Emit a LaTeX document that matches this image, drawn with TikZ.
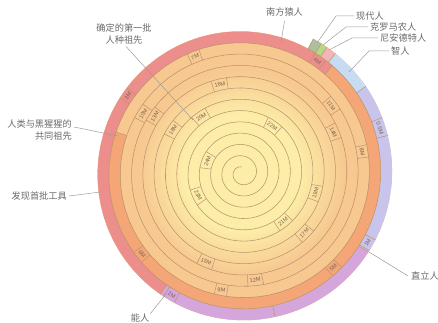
\documentclass[tikz,border=0pt]{standalone}
\usepackage{fontspec}
\setmainfont{Liberation Sans}
\newfontfamily\cjk{Noto Sans CJK SC}
\definecolor{tanC}{HTML}{F7C890}
\definecolor{yelC}{HTML}{FCEDA8}
\definecolor{redC}{HTML}{EC8E8C}
\definecolor{oraC}{HTML}{F4A676}
\definecolor{lavC}{HTML}{C9C4EC}
\definecolor{vioC}{HTML}{D4A6DC}
\definecolor{bluC}{HTML}{C7DBF3}
\definecolor{grnC}{HTML}{B6DA84}
\definecolor{ggrC}{HTML}{AEBFA0}
\definecolor{pnkC}{HTML}{F4B6B4}
\definecolor{lineC}{HTML}{BC946C}
\definecolor{txtC}{HTML}{7A6450}
\definecolor{leadC}{HTML}{9C9C9C}
\definecolor{cnC}{HTML}{6A6A6A}
\newcommand\seg[3]{\fill[#1] plot[domain=#2:#3, samples=40, variable=\t] ({spx(\t)},{spy(\t)}) -- plot[domain=0:1, samples=40, variable=\t] ({spx(#3-\t*(#3-#2)+360)},{spy(#3-\t*(#3-#2)+360)}) -- cycle;}
\newcommand\tlab[4]{%
  \pgfmathsetmacro\tlang{Mod(-28-#1,360)}%
  \pgfmathsetmacro\tlrot{\tlang>270 ? \tlang-360 : (\tlang>90 ? \tlang-180 : \tlang)}%
  \pgfmathsetmacro\tldel{#3/(spr(#1)-5.65)*57.3}%
  \node[tlabel, rotate=\tlrot] (#4) at ({smx(#1)},{smy(#1)}) {#2};
  \draw[tick] ({spx(#1-\tldel)},{spy(#1-\tldel)}) -- ({spx(#1-\tldel+360)},{spy(#1-\tldel+360)});
  \draw[tick] ({spx(#1+\tldel)},{spy(#1+\tldel)}) -- ({spx(#1+\tldel+360)},{spy(#1+\tldel+360)});
}
\begin{document}
\begin{tikzpicture}[x=1pt,y=1pt,
  declare function={spr(\t)=152-0.0314*\t; spx(\t)=242+spr(\t)*cos(62-\t); spy(\t)=149+spr(\t)*sin(62-\t); smx(\t)=242+(spr(\t)-5.65)*cos(62-\t); smy(\t)=149+(spr(\t)-5.65)*sin(62-\t);},
  spiral/.style={draw=lineC, line width=0.55pt},
  tick/.style={draw=lineC, line width=0.5pt},
  tlabel/.style={text=txtC, font=\fontsize{5.6}{6}\selectfont, inner sep=0pt},
  cn/.style={text=cnC, font=\cjk\fontsize{9.2}{11.5}\selectfont, inner sep=0pt},
  lead/.style={draw=leadC, line width=0.5pt}]
\useasboundingbox (0,0) rectangle (438,322);
% gradient body
\begin{scope}
  \clip plot[domain=0:360, samples=120, variable=\t] ({spx(\t)},{spy(\t)}) -- cycle;
  \foreach \r in {153,150,...,3} {
    \pgfmathsetmacro\pp{max(0,min(100,(105-\r)*100/45))}
    \fill[yelC!\pp!tanC] (242,149) circle (\r);
  }
\end{scope}
% coloured segments
\seg{ggrC}{0}{3.5}
\seg{grnC}{3.5}{6}
\seg{pnkC}{6}{10}
\seg{bluC}{10}{27}
\seg{lavC}{27}{94}
\seg{vioC}{94}{186}
\seg{redC}{186}{372}
\seg{oraC}{372}{620}
% spiral line
\draw[spiral] plot[domain=360:4650, samples=860, variable=\t] ({spx(\t)},{spy(\t)});
\draw[tick] ({spx(0)},{spy(0)}) -- ({spx(360)},{spy(360)});
\foreach \f in {3.5,6,10,27,94,139,186,372,620}
  \draw[tick] ({spx(\f)},{spy(\f)}) -- ({spx(\f+360)},{spy(\f+360)});
% time labels
\tlab{44}{0.5M}{9}{m05}
\tlab{91}{1M}{6}{m1}
\tlab{182}{2M}{6}{m2}
\tlab{276}{3M}{6}{m3}
\tlab{366}{4M}{6}{m4}
\tlab{468}{5M}{6}{m5}
\tlab{563}{6M}{6}{m6}
\tlab{670}{7M}{6}{m7}
\tlab{772}{8M}{6}{m8}
\tlab{882}{9M}{6}{m9}
\tlab{993}{10M}{7.5}{m10}
\tlab{1105}{11M}{7.5}{m11}
\tlab{1225}{12M}{7.5}{m12}
\tlab{1355}{13M}{7.5}{m13}
\tlab{1478}{14M}{7.5}{m14}
\tlab{1614}{15M}{7.5}{m15}
\tlab{1758}{16M}{7.5}{m16}
\tlab{1906}{17M}{7.5}{m17}
\tlab{2074}{18M}{7.5}{m18}
\tlab{2237}{19M}{7.5}{m19}
\tlab{2456}{20M}{7.5}{m20}
\tlab{2632}{21M}{7.5}{m21}
\tlab{2885}{22M}{7.5}{m22}
\tlab{3095}{23M}{7.5}{m23}
\tlab{3501}{24M}{7.5}{m24}
% annotations
\coordinate (ancE) at (193,202);
\coordinate (chimpE) at (118,186);
\coordinate (toolsE) at (100,130);
\coordinate (habE) at (166,28);
\coordinate (erE) at (369,70);
\coordinate (auE) at (281,280);
\coordinate (modE) at (317,279);
\coordinate (croE) at (323,277);
\coordinate (neE) at (329,272);
\coordinate (sapE) at (349,250);
\node[cn, align=center] (anc) at (124,288) {确定的第一批\\人种祖先};
\node[cn, align=right, anchor=east] (chimp) at (72,192) {人类与黑猩猩的\\共同祖先};
\node[cn, anchor=east] (tools) at (67,126) {发现首批工具};
\node[cn] (habilis) at (140,4) {能人};
\node[cn, anchor=west] (erectus) at (411,46) {直立人};
\node[cn] (austr) at (284.5,309.5) {南方猿人};
\node[cn, anchor=west] (modern) at (356,306) {现代人};
\node[cn, anchor=west] (cro) at (370,295) {克罗马农人};
\node[cn, anchor=west] (nean) at (380,284) {尼安德特人};
\node[cn, anchor=west] (sap) at (391,271) {智人};
\draw[lead, shorten <=3pt] (anc.south) -- (ancE);
\draw[lead] ([shift={(2pt,3pt)}]chimp.east) -- (chimpE);
\draw[lead] ([xshift=2pt]tools.east) -- (toolsE);
\draw[lead] ([xshift=1pt]habilis.north east) -- (habE);
\draw[lead] ([xshift=-3pt]erectus.west) -- (erE);
\draw[lead] ([yshift=-4pt]austr.south) -- (auE);
\draw[lead] ([xshift=-2pt]modern.west) -- ++(-18,0) -- (modE);
\draw[lead] ([xshift=-2pt]cro.west) -- ++(-22,0) -- (croE);
\draw[lead] ([xshift=-2pt]nean.west) -- ++(-26,0) -- (neE);
\draw[lead] ([xshift=-2pt]sap.west) -- ++(-20,0) -- (sapE);
\end{tikzpicture}
\end{document}
